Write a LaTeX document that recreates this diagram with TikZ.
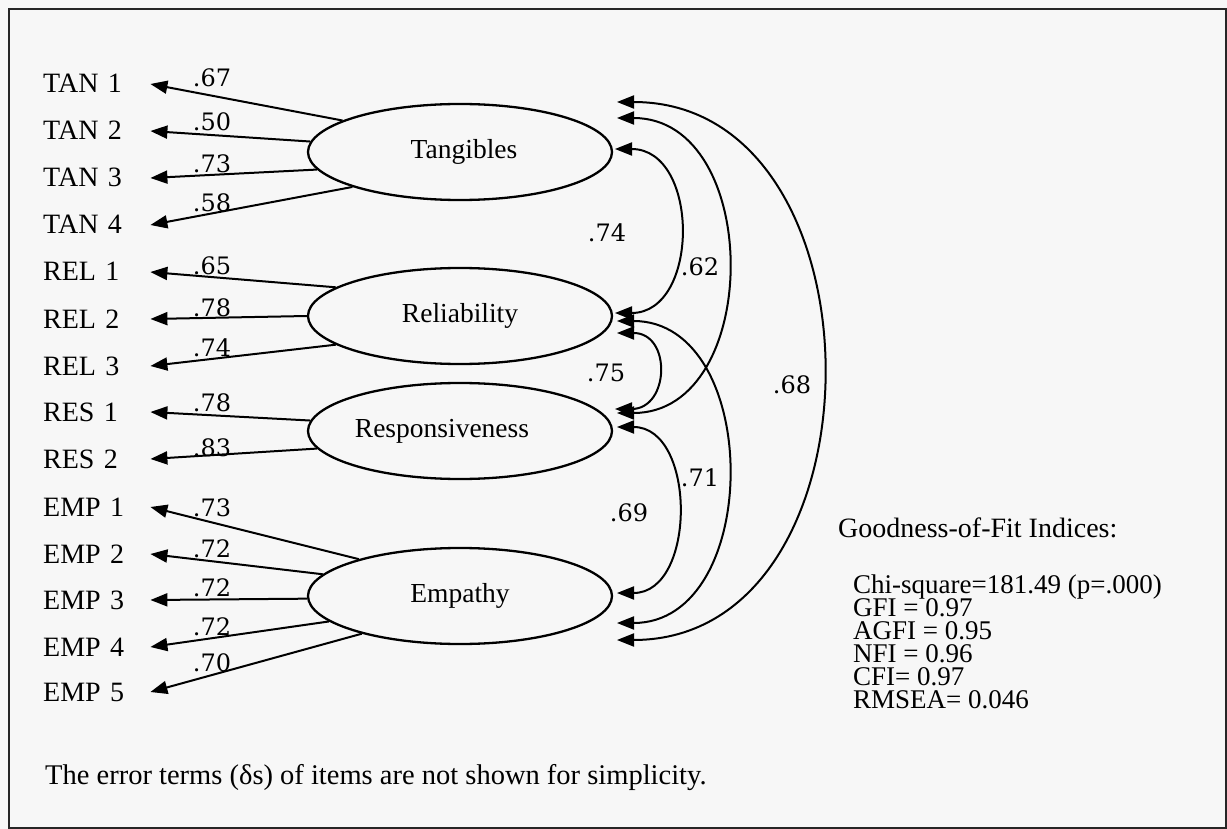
\documentclass[tikz,border=0pt]{standalone}
\usepackage{fontspec}
\setmainfont{Liberation Serif}
\newfontfamily\numfont{DejaVu Serif}
\usetikzlibrary{shapes.geometric,arrows.meta}
\begin{document}
\begin{tikzpicture}[x=1pt,y=-1pt,
  item/.style={anchor=west, inner sep=2pt, text width=105pt, text height=18pt, text depth=0pt, font=\fontsize{28}{30}\selectfont},
  factor/.style={ellipse, draw, line width=2.3pt, minimum width=304pt, minimum height=96pt, inner sep=0pt, font=\fontsize{27.5}{30}\selectfont},
  load/.style={font=\numfont\fontsize{24}{26}\selectfont, inner sep=0pt},
  fitline/.style={anchor=base west, inner sep=0pt, text height=17pt, text depth=5pt, font=\fontsize{27}{23}\selectfont},
  ldarrow/.style={-{Triangle[length=17pt,width=13pt]}, line width=2pt},
  covarrow/.style={{Triangle[length=17pt,width=13pt]}-{Triangle[length=17pt,width=13pt]}, line width=2pt}
]
\fill[black!3] (0,0) rectangle (1227,829);
\useasboundingbox (0,0) rectangle (1227,829);
\draw[line width=2pt, black!85] (9,9) rectangle (1225.5,827.5);

% items
\node[item] (t1) at (41,84) {TAN 1};
\node[item] (t2) at (41,131) {TAN 2};
\node[item] (t3) at (41,178) {TAN 3};
\node[item] (t4) at (41,225) {TAN 4};
\node[item] (r1) at (41,272) {REL 1};
\node[item] (r2) at (41,319) {REL 2};
\node[item] (r3) at (41,366) {REL 3};
\node[item] (s1) at (41,412) {RES 1};
\node[item] (s2) at (41,459) {RES 2};
\node[item] (e1) at (41,507) {EMP 1};
\node[item] (e2) at (41,554) {EMP 2};
\node[item] (e3) at (41,600) {EMP 3};
\node[item] (e4) at (41,647) {EMP 4};
\node[item] (e5) at (41,692) {EMP 5};

% factors
\node[factor] (tan) at (460,152) {\makebox[0pt]{\hspace*{8pt}Tangibles}};
\node[factor] (rel) at (460,316) {Reliability};
\node[factor] (res) at (460,431) {\makebox[0pt]{\hspace*{-36pt}Responsiveness}};
\node[factor] (emp) at (460,596) {Empathy};

% loadings
\draw[ldarrow] (tan.165) -- (t1.east);
\draw[ldarrow] (tan.176) -- (t2.east);
\draw[ldarrow] (tan.187) -- (t3.east);
\draw[ldarrow] (tan.198) -- (t4.east);
\draw[ldarrow] (rel.167) -- (r1.east);
\draw[ldarrow] (rel.180) -- (r2.east);
\draw[ldarrow] (rel.193) -- (r3.east);
\draw[ldarrow] (res.176) -- (s1.east);
\draw[ldarrow] (res.187) -- (s2.east);
\draw[ldarrow] (emp.160) -- (e1.east);
\draw[ldarrow] (emp.171) -- (e2.east);
\draw[ldarrow] (emp.181) -- (e3.east);
\draw[ldarrow] (emp.191) -- (e4.east);
\draw[ldarrow] (emp.201) -- (e5.east);

\node[load] (l1) at (212,78) {.67};
\node[load] (l2) at (212,122) {.50};
\node[load] (l3) at (212,164) {.73};
\node[load] (l4) at (212,203) {.58};
\node[load] (l5) at (212,266) {.65};
\node[load] (l6) at (212,308) {.78};
\node[load] (l7) at (212,348) {.74};
\node[load] (l8) at (212,403) {.78};
\node[load] (l9) at (212,448) {.83};
\node[load] (l10) at (212,508) {.73};
\node[load] (l11) at (212,549) {.72};
\node[load] (l12) at (212,588) {.72};
\node[load] (l13) at (212,627) {.72};
\node[load] (l14) at (212,663) {.70};

% covariance ends
\coordinate (a68) at (617,102);
\coordinate (a62) at (617,118);
\coordinate (a74) at (615,149);
\coordinate (b74) at (615,313);
\coordinate (b71) at (617,321);
\coordinate (b75) at (617,333);
\coordinate (c75) at (615,409);
\coordinate (c62) at (617,413);
\coordinate (c69) at (617,427);
\coordinate (d69) at (617,593);
\coordinate (d71) at (617,623);
\coordinate (d68) at (617,640);

\draw[covarrow] (a74) to[out=0,in=0,looseness=1.33] (b74);
\draw[covarrow] (a62) to[out=0,in=0,looseness=1.27] (c62);
\draw[covarrow] (a68) to[out=0,in=0,looseness=1.30] (d68);
\draw[covarrow] (b75) to[out=0,in=0,looseness=1.84] (c75);
\draw[covarrow] (b71) to[out=0,in=0,looseness=1.24] (d71);
\draw[covarrow] (c69) to[out=0,in=0,looseness=1.23] (d69);

\node[load] (k74) at (607,233) {.74};
\node[load] (k62) at (700,267) {.62};
\node[load] (k75) at (606,373) {.75};
\node[load] (k68) at (792,385) {.68};
\node[load] (k71) at (700,478) {.71};
\node[load] (k69) at (629,513) {.69};

% fit indices
\node[anchor=west, inner sep=0pt, font=\fontsize{28}{30}\selectfont] (gof) at (838,528) {Goodness-of-Fit Indices:};
\node[fitline] (f1) at (853,593) {Chi-square=181.49 (p=.000)};
\node[fitline] (f2) at (853,616) {GFI = 0.97};
\node[fitline] (f3) at (853,639) {AGFI = 0.95};
\node[fitline] (f4) at (853,662) {NFI = 0.96};
\node[fitline] (f5) at (853,685) {CFI= 0.97};
\node[fitline] (f6) at (853,708) {RMSEA= 0.046};

\node[anchor=west, inner sep=0pt, font=\fontsize{28.5}{30}\selectfont] (note) at (45,778) {The error terms (δs) of items are not shown for simplicity.};
\end{tikzpicture}
\end{document}
